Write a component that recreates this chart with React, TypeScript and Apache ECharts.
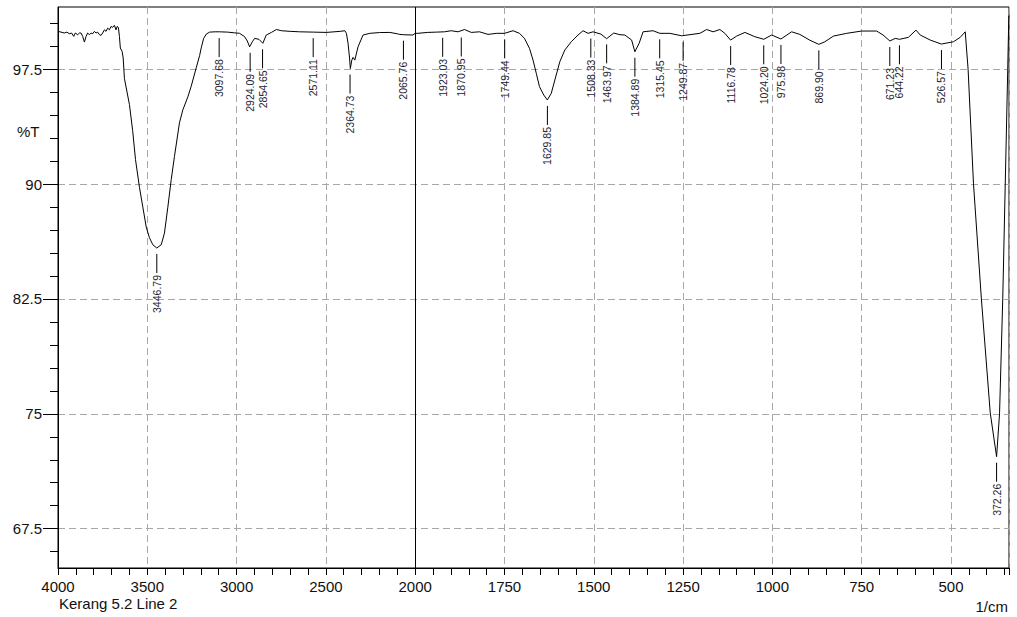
import React, { useEffect, useRef } from "react";
import * as echarts from "echarts";

// Spectrum (wavenumber in 1/cm, transmittance in %T)
const wavenumbers = [
  4000, 3983, 3965, 3950, 3937, 3924, 3912, 3903, 3890, 3880, 3871, 3862, 3852, 3843, 3834, 3824, 3815, 3806,
  3796, 3787, 3778, 3768, 3759, 3750, 3740, 3731, 3722, 3712, 3703, 3694, 3684, 3675, 3669, 3662, 3656, 3651,
  3641, 3635, 3628, 3600, 3582, 3566, 3544, 3525, 3506, 3488, 3469, 3447, 3422, 3404, 3385, 3366, 3348, 3320,
  3301, 3273, 3254, 3226, 3207, 3198, 3185, 3170, 3151, 3120, 3097, 3050, 3010, 2983, 2955, 2940, 2927, 2912,
  2899, 2875, 2853, 2834, 2805, 2777, 2749, 2700, 2647, 2571, 2497, 2420, 2394, 2385, 2376, 2368, 2363, 2355,
  2348, 2338, 2320, 2292, 2254, 2200, 2142, 2100, 2086, 2066, 2040, 2013, 2000, 1993, 1965, 1940, 1918, 1899,
  1880, 1862, 1843, 1820, 1796, 1773, 1750, 1726, 1708, 1694, 1680, 1670, 1661, 1652, 1640, 1630, 1619, 1609,
  1595, 1581, 1563, 1544, 1530, 1516, 1502, 1480, 1464, 1444, 1427, 1413, 1394, 1385, 1373, 1362, 1334, 1315,
  1287, 1254, 1203, 1184, 1166, 1147, 1133, 1117, 1100, 1077, 1049, 1024, 1002, 976, 946, 923, 895, 870, 853,
  829, 792, 750, 708, 690, 671, 656, 644, 619, 598, 586, 558, 527, 493, 474, 460, 452, 437, 415, 390, 372.26,
  364, 355, 348, 341, 338,
];
const transmittance = [
  99.98, 99.93, 99.87, 99.93, 99.82, 99.87, 99.65, 99.87, 99.76, 99.87, 99.87, 99.65, 99.28, 99.65, 99.87, 99.76, 99.87, 99.82,
  99.98, 99.87, 99.93, 99.76, 99.72, 99.87, 100.08, 99.98, 100.19, 100.08, 100.3, 100.24, 100.37, 100.08, 100.3, 100.24, 99.65, 98.89,
  98.67, 98.24, 96.9, 95.2, 93.5, 91.6, 89.8, 88.5, 87.2, 86.5, 86.04, 85.83, 86.04, 86.8, 88.5, 90.3, 91.8, 94.0,
  94.85, 95.7, 96.4, 97.6, 98.4, 98.9, 99.5, 99.8, 99.93, 99.95, 99.95, 99.93, 99.88, 99.85, 99.63, 99.35, 98.97, 99.3,
  99.52, 99.46, 99.2, 99.74, 99.91, 100.1, 100.02, 99.98, 99.95, 99.93, 99.91, 99.98, 100.02, 99.85, 99.2, 98.3, 97.55, 98.1,
  98.28, 98.1, 98.97, 99.74, 99.85, 99.9, 99.91, 99.82, 99.78, 99.76, 99.75, 99.74, 99.85, 99.85, 99.91, 99.93, 99.95, 100.02,
  99.95, 100.1, 99.91, 99.95, 99.78, 99.85, 99.85, 100.02, 99.85, 99.52, 98.87, 98.1, 97.24, 96.37, 95.82, 95.5, 95.93, 96.8,
  98.0, 98.76, 99.3, 99.74, 100.02, 99.85, 99.95, 99.8, 99.5, 99.87, 99.76, 99.74, 99.41, 98.65, 99.2, 99.95, 100.02, 99.85,
  99.85, 99.69, 99.85, 100.1, 99.95, 100.1, 99.85, 99.41, 99.67, 99.91, 99.63, 99.46, 99.74, 99.48, 99.95, 99.78, 99.4, 99.13, 99.3,
  99.67, 99.85, 100.0, 100.0, 99.74, 99.35, 99.52, 99.46, 99.59, 100.06, 99.74, 99.41, 99.15, 99.3, 99.59, 99.95, 97.5, 90.06, 82.56, 75.06, 72.2,
  75.0, 82.5, 90.0, 97.5, 101.0,
];

// Labelled peaks
const peakWavenumbers = [
  3446.79, 3097.68, 2924.09, 2854.65, 2571.11, 2364.73, 2065.76, 1923.03, 1870.95, 1749.44, 1629.85, 1508.33,
  1463.97, 1384.89, 1315.45, 1249.87, 1116.78, 1024.2, 975.98, 869.9, 671.23, 644.22, 526.57, 372.26,
];
const peakTransmittance = [
  85.83, 99.93, 98.97, 99.2, 99.93, 97.55, 99.76, 99.95, 99.97, 99.85, 95.5, 99.9,
  99.52, 98.65, 99.85, 99.69, 99.41, 99.46, 99.48, 99.13, 99.35, 99.46, 99.15, 72.2,
];

// Axis ticks
const xTickLabels = [4000, 3500, 3000, 2500, 2000, 1750, 1500, 1250, 1000, 750, 500];
const yMajorTicks = [67.5, 75, 82.5, 90, 97.5];
const yMinorTicks = [66, 69, 70.5, 72, 73.5, 76.5, 78, 79.5, 81, 84, 85.5, 87, 88.5, 91.5, 93, 94.5, 96, 99, 100.5];

const Y_MIN = 64.93;
const Y_MAX = 101.57;
const X_END = 337.5;

// Split scale: 4000-2000 compressed, 2000-end expanded twice
const toAxis = (w: number) => (w >= 2000 ? 4000 - w : 2000 + (2000 - w) * 2);
const fromAxis = (u: number) => (u <= 2000 ? 4000 - u : 2000 - (u - 2000) / 2);

const FONT = "'Liberation Sans', Arial, Helvetica, sans-serif";

export default function App() {
  const ref = useRef<HTMLDivElement>(null);

  useEffect(() => {
    if (!ref.current) return;
    const chart = echarts.init(ref.current, undefined, { renderer: "svg" });

    const lineData = wavenumbers.map((w, i) => [toAxis(w), transmittance[i]]);
    const peakData = peakWavenumbers.map((w, i) => [toAxis(w), peakTransmittance[i]]);

    const option: any = {
      animation: false,
      grid: {
        left: 58,
        right: 8,
        top: 7,
        bottom: 49,
        show: true,
        borderColor: "#000",
        borderWidth: 1,
        backgroundColor: "transparent",
      },
      xAxis: {
        type: "value",
        min: 0,
        max: toAxis(X_END),
        interval: 500,
        axisLine: { show: true, lineStyle: { color: "#000", width: 1 } },
        axisTick: { show: true, length: 7, inside: false, lineStyle: { color: "#000" } },
        minorTick: { show: true, splitNumber: 5, length: 7, lineStyle: { color: "#000" } },
        splitLine: { show: true, lineStyle: { color: "#a8a8a8", width: 1, type: [7, 4] } },
        minorSplitLine: { show: false },
        axisLabel: {
          show: true,
          margin: 11,
          color: "#111",
          fontSize: 15,
          fontFamily: FONT,
          showMinLabel: true,
          showMaxLabel: true,
          hideOverlap: false,
          formatter: (u: number) => {
            if (Math.abs(u % 500) > 1e-6) return "";
            const w = Math.round(fromAxis(u));
            return xTickLabels.indexOf(w) >= 0 ? String(w) : "";
          },
        },
      },
      yAxis: [
        {
          type: "value",
          min: Y_MIN,
          max: Y_MAX,
          position: "left",
          axisLine: { show: true, lineStyle: { color: "#000", width: 1 } },
          axisTick: { show: true, length: 15, customValues: yMajorTicks, lineStyle: { color: "#000" } },
          axisLabel: {
            show: true,
            customValues: yMajorTicks,
            margin: 16,
            color: "#111",
            fontSize: 15,
            fontFamily: FONT,
            formatter: (v: number) => String(v),
          },
          splitLine: { show: true, lineStyle: { color: "#a8a8a8", width: 1, type: [7, 4] } },
        },
        {
          type: "value",
          min: Y_MIN,
          max: Y_MAX,
          position: "left",
          offset: 0,
          axisLine: { show: false },
          axisTick: { show: true, length: 8, customValues: yMinorTicks, lineStyle: { color: "#000" } },
          axisLabel: { show: false },
          splitLine: { show: false },
        },
      ],
      series: [
        {
          type: "line",
          data: lineData,
          xAxisIndex: 0,
          yAxisIndex: 0,
          showSymbol: false,
          symbol: "none",
          lineStyle: { color: "#000", width: 1 },
          silent: true,
          markLine: {
            silent: true,
            symbol: "none",
            label: { show: false },
            lineStyle: { color: "#000", width: 1, type: "solid" },
            data: [{ xAxis: toAxis(2000) }],
          },
        },
        {
          type: "custom",
          xAxisIndex: 0,
          yAxisIndex: 0,
          data: peakData,
          clip: false,
          silent: true,
          encode: { x: 0, y: 1 },
          renderItem: (params: any, api: any) => {
            const p = api.coord([api.value(0), api.value(1)]);
            const label = peakWavenumbers[params.dataIndex].toFixed(2);
            return {
              type: "group",
              children: [
                {
                  type: "line",
                  shape: { x1: p[0], y1: p[1] + 6, x2: p[0], y2: p[1] + 25 },
                  style: { stroke: "#000", lineWidth: 1 },
                },
                {
                  type: "text",
                  x: p[0],
                  y: p[1] + 27,
                  rotation: Math.PI / 2,
                  style: {
                    text: label,
                    align: "right",
                    verticalAlign: "middle",
                    fill: "#1c2433",
                    font: `10.5px ${FONT}`,
                  },
                },
              ],
            };
          },
        },
      ],
      graphic: [
        {
          type: "text",
          left: 17,
          top: 124,
          style: { text: "%T", fill: "#111", font: `15px ${FONT}` },
        },
        {
          type: "text",
          x: 59,
          y: 603,
          style: { text: "Kerang 5.2 Line 2", fill: "#111", font: `15px ${FONT}`, align: "left", verticalAlign: "middle" },
        },
        {
          type: "text",
          x: 1008,
          y: 606,
          style: { text: "1/cm", fill: "#111", font: `15px ${FONT}`, align: "right", verticalAlign: "middle" },
        },
      ],
    };

    chart.setOption(option);
    return () => chart.dispose();
  }, []);

  return (
    <div
      ref={ref}
      style={{ position: "absolute", left: 0, top: 0, width: 1017, height: 617, background: "#fff" }}
    />
  );
}
